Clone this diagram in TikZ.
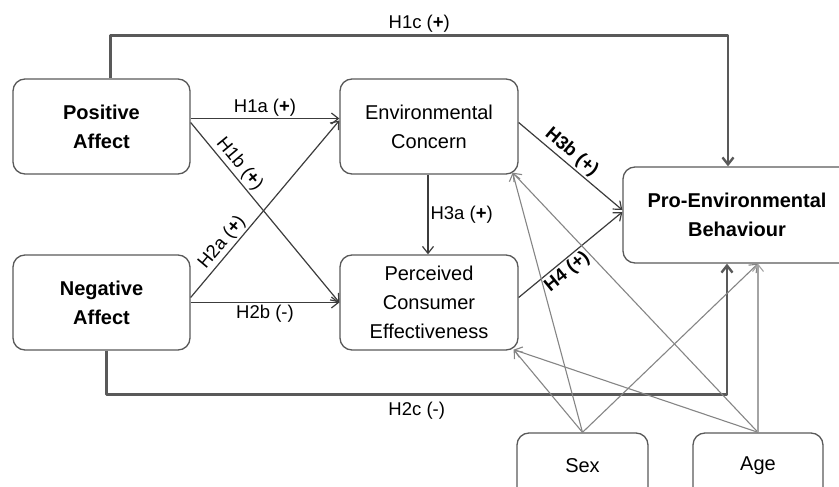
\documentclass[tikz,border=0pt]{standalone}
\usepackage{fontspec}
\setmainfont{Liberation Sans}
\usetikzlibrary{arrows.meta}
\definecolor{boxgray}{HTML}{595959}
\definecolor{hypgray}{HTML}{3C3C3C}
\definecolor{ctrlgray}{HTML}{858585}
\begin{document}
\begin{tikzpicture}[x=1pt, y=-1pt, line join=round, >={Straight Barb[length=7pt,width=11pt]},
    box/.style={draw=boxgray, line width=1.3pt, rounded corners=12pt, align=center, inner sep=0pt, font=\fontsize{20}{29}\selectfont},
    boldbox/.style={box, font=\fontsize{20}{29}\selectfont\bfseries},
    hyp/.style={->, draw=hypgray, line width=1.2pt},
    direct/.style={->, draw=boxgray, line width=2.4pt},
    ctrl/.style={->, draw=ctrlgray, line width=1.1pt},
    lab/.style={font=\fontsize{18.5}{20}\selectfont, inner sep=2pt}]
  \useasboundingbox (0,0) rectangle (839,487);
  % constructs
  \node[boldbox, minimum width=177pt, minimum height=95pt] (pa) at (101.5,126.5) {Positive\\Affect};
  \node[boldbox, minimum width=177pt, minimum height=95pt] (na) at (101.5,302.5) {Negative\\Affect};
  \node[box, minimum width=178pt, minimum height=95pt] (ec) at (429,126.5) {Environmental\\Concern};
  \node[box, minimum width=178pt, minimum height=95pt] (pce) at (429,302.5) {Perceived\\Consumer\\Effectiveness};
  \node[boldbox, minimum width=228pt, minimum height=96pt] (peb) at (737,215) {Pro-Environmental\\Behaviour};
  \node[box, minimum width=131pt, minimum height=66pt] (sex) at (582.5,466) {Sex};
  \node[box, minimum width=130pt, minimum height=66pt] (age) at (758,466) {Age};
  % hypotheses
  \draw[hyp] ([yshift=8pt]pa.east) -- ([yshift=8pt]ec.west) node[lab, midway, above] {H1a (\textbf{+})};
  \draw[hyp] ([yshift=4pt]pa.east) -- (pce.west) node[lab, pos=0.27, above, sloped] {H1b (\textbf{+})};
  \draw[hyp] ([yshift=5pt]na.east) -- ([yshift=6pt]ec.west) node[lab, pos=0.27, above, sloped] {H2a (\textbf{+})};
  \draw[hyp] (na.east) -- (pce.west) node[lab, midway, below] {H2b (-)};
  \draw[hyp] ([xshift=-1pt]ec.south) -- ([xshift=-1pt]pce.north) node[lab, midway, right] {H3a (\textbf{+})};
  \draw[hyp] ([yshift=4pt]ec.east) -- ([yshift=5pt]peb.west) node[lab, pos=0.44, above, sloped] {\textbf{H3b (+)}};
  \draw[hyp] ([yshift=5pt]pce.east) -- ([yshift=3pt]peb.west) node[lab, pos=0.4, below, sloped] {\textbf{H4 (+)}};
  \draw[direct] ([xshift=9pt]pa.north) -- ++(0,-43) -| ([xshift=-9pt]peb.north) node[lab, pos=0.25, above] {H1c (\textbf{+})};
  \draw[direct] ([xshift=5pt]na.south) -- ++(0,44) -| ([xshift=-10pt]peb.south) node[lab, pos=0.25, below=4pt] {H2c (-)};
  % controls
  \draw[ctrl] (sex.north) -- ([shift={(-6pt,2pt)}]ec.south east);
  \draw[ctrl] (age.north) -- ([shift={(-6pt,2pt)}]ec.south east);
  \draw[ctrl] (sex.north) -- ([shift={(-5pt,1pt)}]pce.south east);
  \draw[ctrl] (age.north) -- ([shift={(-5pt,1pt)}]pce.south east);
  \draw[ctrl] (sex.north) -- (age.north |- peb.south);
  \draw[ctrl, draw=ctrlgray!75] (age.north) -- (age.north |- peb.south);
\end{tikzpicture}
\end{document}
